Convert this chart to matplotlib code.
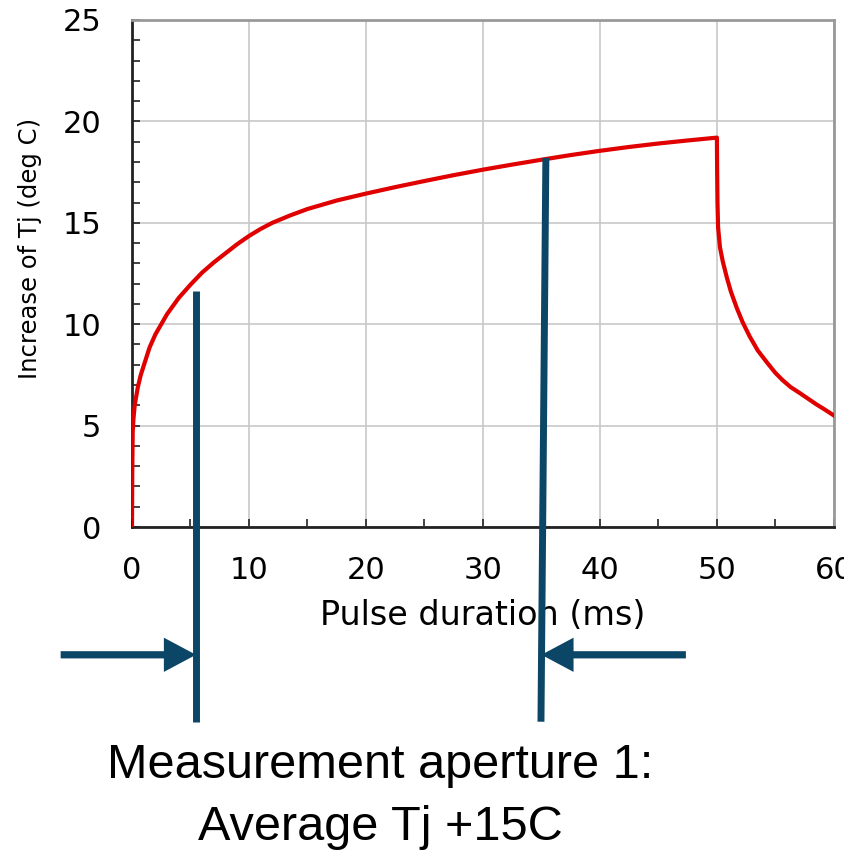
import matplotlib.pyplot as plt
from matplotlib.ticker import MultipleLocator

# Tj rise during a 50 ms pulse and cool-down after it
t_ms = [0, 0.02, 0.06, 0.12, 0.23, 0.5, 0.75, 1, 1.5, 2, 3, 4, 5, 6, 7, 8, 9, 10, 11, 12, 13.5, 15,
        17.5, 20, 22.5, 25, 27.5, 30, 32.5, 35, 37.5, 40, 42.5, 45, 47.5, 50,
        50.02, 50.05, 50.1, 50.18, 50.26, 50.5, 50.85, 51.2, 51.7, 52.2, 52.8, 53.5, 54.3, 55, 55.6,
        56.3, 57.1, 58.5, 59.2, 60]
tj_rise = [0, 2.6, 4.7, 5.3, 6.0, 6.9, 7.5, 7.95, 8.85, 9.5, 10.5, 11.3, 11.95, 12.55, 13.05, 13.5,
           13.95, 14.35, 14.7, 15.0, 15.36, 15.68, 16.1, 16.44, 16.76, 17.06, 17.35, 17.62, 17.87,
           18.11, 18.34, 18.55, 18.74, 18.91, 19.06, 19.2,
           17.6, 16.0, 14.8, 14.3, 13.8, 13.1, 12.3, 11.6, 10.8, 10.1, 9.4, 8.7, 8.1, 7.6, 7.25,
           6.9, 6.6, 6.05, 5.8, 5.5]

# aperture edges (ms) and the height where each marker starts
ap_start = 5.47
ap_start_top = 11.63
ap_end_top, ap_end_bottom = 35.38, 34.96
ap_end_top_y = 18.2
marker_low = -9.6
arrow_y = -6.3
arrow_left_from = -6.1
arrow_right_from = 47.35
arrow_right_to = 35.0

blue = '#0b4666'
red = '#e00000'

fig = plt.figure(figsize=(8.44, 8.51), dpi=100)
ax = fig.add_axes([0.1564, 0.3807, 0.988 - 0.1564, 0.9765 - 0.3807])

ax.plot(t_ms, tj_rise, color=red, lw=3, solid_joinstyle='round', zorder=3)

ax.set_xlim(0, 60)
ax.set_ylim(0, 25)
ax.xaxis.set_major_locator(MultipleLocator(10))
ax.xaxis.set_minor_locator(MultipleLocator(5))
ax.yaxis.set_major_locator(MultipleLocator(5))
ax.yaxis.set_minor_locator(MultipleLocator(1))
ax.grid(True, which='major', color='#c8c8c8', lw=1.2)
ax.set_axisbelow(True)
ax.tick_params(which='both', direction='in', color='#222222', width=1.2, length=6)
ax.tick_params(which='major', labelsize=22, pad=21)
ax.tick_params(axis='y', pad=22)
for s in ['left', 'bottom']:
    ax.spines[s].set_color('#222222')
    ax.spines[s].set_linewidth(2)
for s in ['top', 'right']:
    ax.spines[s].set_color('#999999')
    ax.spines[s].set_linewidth(2)

ax.set_xlabel('Pulse duration (ms)', fontsize=24, labelpad=10)
ax.set_ylabel('Increase of Tj (deg C)', fontsize=17.5)
ax.yaxis.set_label_coords(-0.128, 0.55)

# aperture markers reaching below the axes
ax.plot([ap_start, ap_start], [ap_start_top, marker_low], color=blue, lw=5, clip_on=False,
        zorder=4, solid_capstyle='butt')
ax.plot([ap_end_top, ap_end_bottom], [ap_end_top_y, marker_low], color=blue, lw=5, clip_on=False,
        zorder=4, solid_capstyle='butt')

arrow_style = dict(arrowstyle='-|>,head_length=1.5,head_width=0.8', color=blue, lw=5.2,
                   shrinkA=0, shrinkB=0, joinstyle='miter', capstyle='butt')
ax.annotate('', xy=(ap_start, arrow_y), xytext=(arrow_left_from, arrow_y),
            annotation_clip=False, arrowprops=arrow_style)
ax.annotate('', xy=(arrow_right_to, arrow_y), xytext=(arrow_right_from, arrow_y),
            annotation_clip=False, arrowprops=arrow_style)

fig.text(0.45, 0.0858, 'Measurement aperture 1:', ha='center', va='baseline', fontsize=35,
         family='Liberation Sans')
fig.text(0.451, 0.0129, 'Average Tj +15C', ha='center', va='baseline', fontsize=35,
         family='Liberation Sans')

fig.savefig('out.png', dpi=100)
